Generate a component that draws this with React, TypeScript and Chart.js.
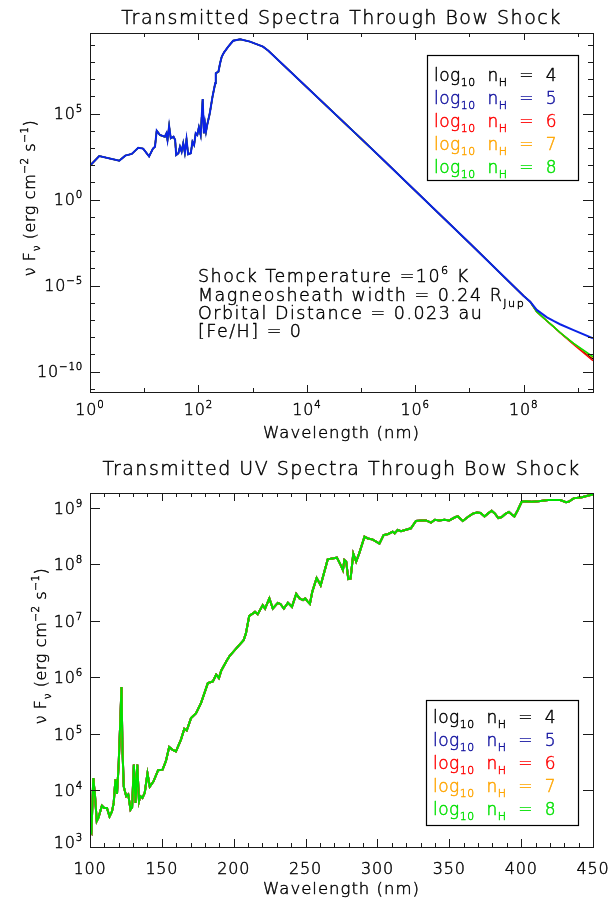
import React, { useEffect, useRef } from "react";
import { Chart, registerables } from "chart.js";
Chart.register(...registerables);

const FONT = "'DejaVu Sans'";
const WEIGHT = "200";

// ---------------- Top chart (full spectrum) ----------------
const topTitle = "Transmitted Spectra Through Bow Shock";
const xTitle = "Wavelength (nm)";

// shared part of all five spectra (nm, erg cm^-2 s^-1)
const topCoreWavelength = [
  1, 1.48, 3.47, 4.47, 5.89, 7.76, 9.55, 12.3, 14.5, 15.8, 17.0, 19.5, 24.0, 25.7, 26.9, 28.8,
  30.9, 34.7, 37.2, 38.9, 42.7, 45.7, 49.0, 52.5, 56.2, 60.3, 64.6, 72.4, 77.6, 83.2, 89.1, 95.5,
  102, 110, 120, 126, 132, 138, 145, 162, 182, 204, 209, 234, 251, 269, 295, 355, 437, 589, 891,
  1550, 1950, 1e4, 1e5, 2.24e5, 1e6, 1e7, 1e8, 1.32e8,
];
const topCoreFlux = [
  95, 347, 186, 363, 457, 1050, 933, 331, 933, 1200, 10200, 5750, 4570, 7240, 2950, 19000,
  3720, 4570, 2950, 398, 501, 1200, 617, 1900, 537, 3240, 437, 501, 2340, 1510, 7240, 5750,
  16200, 5750, 708000, 7240, 27500, 9120, 21900, 105000, 977000, 5.89e6, 2.24e7, 2.75e7, 8.51e7, 2.04e8, 3.55e8, 7.94e8, 1.74e9, 2.14e9, 1.55e9,
  7.94e8, 4.57e8, 3.47e6, 3.55e3, 316, 3.3, 3.0e-3, 2.5e-6, 1.17e-6,
];
// long-wavelength tails where the densities separate
const topTailWavelength = [1.74e8, 2.69e8, 3.55e8, 4.68e8, 8.32e8, 1.9e9];
const tailN4 = [3.1e-7, 8.9e-8, 4.17e-8, 1.9e-8, 4.2e-9, 5.6e-10];
const tailN5 = [3.9e-7, 1.45e-7, 8.9e-8, 5.75e-8, 2.63e-8, 8.7e-9];
const tailN6 = [3.1e-7, 8.9e-8, 4.1e-8, 1.85e-8, 3.8e-9, 4.37e-10];
const tailN7 = [3.1e-7, 8.9e-8, 4.17e-8, 1.9e-8, 4.4e-9, 6.6e-10];
const tailN8 = [3.1e-7, 8.9e-8, 4.17e-8, 1.9e-8, 4.47e-9, 7.4e-10];

const topXMin = 1;
const topXMax = 1.9e9;
const topYMin = 6.6e-12;
const topYMax = 4.9e9;
const topXMajor = [1, 1e2, 1e4, 1e6, 1e8];
const topXMajorExp = ["0", "2", "4", "6", "8"];
const topXMinor = [10, 1e3, 1e5, 1e7, 1e9];
const topYMajor = [1e-10, 1e-5, 1, 1e5];
const topYMajorExp = ["\u221210", "\u22125", "0", "5"];
const topYMinor = [1e-11, 1e-9, 1e-8, 1e-7, 1e-6, 1e-4, 1e-3, 1e-2, 1e-1, 10, 1e2, 1e3, 1e4, 1e6, 1e7, 1e8, 1e9];

// ---------------- Bottom chart (UV) ----------------
const uvTitle = "Transmitted UV Spectra Through Bow Shock";
const uvWavelength = [
  100, 101, 102.3, 103.5, 104.7, 105.9, 108.3, 109.9, 111.8, 113.6, 115.3, 116.5, 117.7, 118.8, 120.0, 121.2,
  121.9, 122.6, 123.5, 125.2, 126.6, 128.2, 129.3, 130.5, 131.7, 132.9, 134.1, 135.0, 136.5, 138.1, 140.0, 141.6,
  144.2, 147.4, 150.5, 152.8, 155.1, 157.5, 159.8, 163.3, 165.6, 167.3, 170.3, 173.8, 177.3, 182.0, 185.5, 187.8,
  189.7, 191.3, 194.8, 197.1, 199.2, 202.7, 206.9, 208.5, 210.8, 213.2, 214.8, 216.7, 220.2, 221.8, 224.8, 227.2,
  230.7, 232.5, 234.9, 237.7, 240.5, 243.5, 245.8, 248.2, 249.8, 251.2, 253.0, 254.7, 257.7, 260.5, 265.4, 269.5,
  271.8, 274.8, 276.0, 277.0, 278.3, 279.7, 281.3, 283.2, 285.2, 287.5, 291.0, 293.4, 296.8, 301.4, 304.3, 307.6,
  310.6, 312.0, 314.1, 316.4, 320.5, 323.3, 326.8, 330.3, 333.8, 337.3, 340.0, 343.0, 346.6, 350.0, 354.3, 356.0,
  359.4, 362.9, 366.4, 369.2, 371.8, 374.5, 376.8, 379.5, 381.8, 384.1, 386.5, 388.8, 391.5, 393.3, 395.3, 397.6,
  400.4, 403.2, 407.4, 412.1, 419.0, 427.2, 431.2, 433.0, 436.5, 442.3, 446.9, 450.0,
];
const uvFlux = [
  2.04e3, 1.82e3, 1.66e4, 7.94e3, 2.88e3, 3.31e3, 5.37e3, 4.9e3, 4.9e3, 3.47e3, 4.27e3, 6.03e3, 1.58e4, 8.71e3, 3.09e4, 2.04e5,
  6.76e5, 5.25e4, 1.17e4, 7.94e3, 8.51e3, 4.57e3, 5.0e3, 2.88e4, 6.03e3, 2.88e4, 6.46e3, 7.94e3, 7.41e3, 9.12e3, 2.0e4, 1.17e4,
  1.45e4, 2.29e4, 2.34e4, 3.31e4, 5.89e4, 5.25e4, 4.9e4, 7.94e4, 1.23e5, 1.15e5, 1.91e5, 2.34e5, 3.55e5, 7.94e5, 8.51e5, 1.12e6,
  9.77e5, 1.32e6, 1.91e6, 2.4e6, 2.75e6, 3.47e6, 4.57e6, 6.03e6, 1.23e7, 1.35e7, 1.45e7, 1.32e7, 1.91e7, 1.66e7, 2.51e7, 1.66e7,
  2.09e7, 2.0e7, 1.66e7, 2.09e7, 1.78e7, 3.02e7, 2.51e7, 2.34e7, 2.51e7, 2.24e7, 2.0e7, 3.31e7, 5.75e7, 4.27e7, 1.23e8, 1.29e8,
  1.32e8, 9.33e7, 7.94e7, 1.2e8, 1.12e8, 5.5e7, 5.62e7, 1.55e8, 1.12e8, 1.62e8, 3.09e8, 2.88e8, 2.75e8, 2.34e8, 3.31e8, 3.47e8,
  3.8e8, 3.55e8, 4.07e8, 3.89e8, 4.17e8, 4.37e8, 5.89e8, 6.03e8, 6.03e8, 5.5e8, 6.17e8, 6.03e8, 6.17e8, 6.03e8, 6.92e8, 7.08e8,
  5.89e8, 6.92e8, 7.94e8, 8.32e8, 8.13e8, 7.08e8, 7.94e8, 8.91e8, 7.94e8, 6.61e8, 6.92e8, 7.76e8, 8.51e8, 7.76e8, 7.08e8, 9.12e8,
  1.29e9, 1.32e9, 1.29e9, 1.32e9, 1.38e9, 1.38e9, 1.26e9, 1.29e9, 1.48e9, 1.55e9, 1.66e9, 1.74e9,
];
const uvXMin = 100;
const uvXMax = 450;
const uvYMin = 1e3;
const uvYMax = 1.84e9;
const uvXMajor = [100, 150, 200, 250, 300, 350, 400, 450];
const uvXMinor = [110, 120, 130, 140, 160, 170, 180, 190, 210, 220, 230, 240, 260, 270, 280, 290, 310, 320, 330, 340, 360, 370, 380, 390, 410, 420, 430, 440];
const uvYMajor = [1e3, 1e4, 1e5, 1e6, 1e7, 1e8, 1e9];
const uvYMajorExp = ["3", "4", "5", "6", "7", "8", "9"];

// ---------------- Legend ----------------
const densities = ["4", "5", "6", "7", "8"];
const lineColors = ["#000000", "#0a22e6", "#ff0000", "#ffa500", "#00e000"];
const legendTextColors = ["#000000", "#1414a0", "#ff0000", "#ffa500", "#00e000"];

type Seg = { t: string; k?: "sub" | "sup" };

const yTitleSegs: Seg[] = [
  { t: "\u03bd F" }, { t: "\u03bd", k: "sub" }, { t: " (erg cm" }, { t: "\u22122", k: "sup" }, { t: " s" }, { t: "\u22121", k: "sup" }, { t: ")" },
];
const annotationLines: Seg[][] = [
  [{ t: "Shock Temperature =10" }, { t: "6", k: "sup" }, { t: " K" }],
  [{ t: "Magneosheath width = 0.24 R" }, { t: "Jup", k: "sub" }],
  [{ t: "Orbital Distance = 0.023 au" }],
  [{ t: "[Fe/H] = 0" }],
];

function font(size: number) {
  return `${WEIGHT} ${size}px ${FONT}`;
}

function richWidth(ctx: CanvasRenderingContext2D, segs: Seg[], size: number) {
  let w = 0;
  for (const s of segs) {
    ctx.font = font(s.k ? size * 0.64 : size);
    w += ctx.measureText(s.t).width;
  }
  return w;
}

function drawRich(
  ctx: CanvasRenderingContext2D,
  segs: Seg[],
  x: number,
  y: number,
  size: number,
  color: string,
  align: "left" | "center" | "right" = "left",
  spacing = 0
) {
  ctx.save();
  (ctx as any).letterSpacing = spacing + "px";
  const w = richWidth(ctx, segs, size);
  let cx = align === "left" ? x : align === "center" ? x - w / 2 : x - w;
  const base = y + size * 0.36;
  ctx.fillStyle = color;
  ctx.strokeStyle = color;
  ctx.lineWidth = 0.45;
  ctx.lineJoin = "round";
  ctx.textAlign = "left";
  ctx.textBaseline = "alphabetic";
  for (const s of segs) {
    const fs = s.k ? size * 0.64 : size;
    ctx.font = font(fs);
    const dy = s.k === "sub" ? size * 0.3 : s.k === "sup" ? -size * 0.45 : 0;
    ctx.fillText(s.t, cx, base + dy);
    ctx.strokeText(s.t, cx, base + dy);
    cx += ctx.measureText(s.t).width;
  }
  ctx.restore();
}

type Deco = {
  title: string;
  titleY: number;
  xMajor: number[];
  xMajorLabels: Seg[][];
  xMinor: number[];
  xMajorLen: number;
  xMinorLen: number;
  xLabelY: number;
  xTitleY: number;
  yMajor: number[];
  yMajorLabels: Seg[][];
  yMinor: number[];
  yMajorLen: number;
  yMinorLen: number;
  yTitleX: number;
  yTitleY: number;
  legendBox: [number, number, number, number];
  legendFirstY: number;
  annotations?: { lines: Seg[][]; x: number; ys: number[] };
};

function makeDecoPlugin(d: Deco) {
  return {
    id: "idlDeco",
    afterDraw(chart: any) {
      const ctx: CanvasRenderingContext2D = chart.ctx;
      const a = chart.chartArea;
      const xs = chart.scales.x;
      const ys = chart.scales.y;
      ctx.save();
      ctx.strokeStyle = "#1a1a1a";
      ctx.lineWidth = 1;
      ctx.strokeRect(Math.round(a.left) + 0.5, Math.round(a.top) + 0.5, Math.round(a.right - a.left), Math.round(a.bottom - a.top));
      ctx.beginPath();
      const xTick = (v: number, len: number) => {
        const px = Math.round(xs.getPixelForValue(v)) + 0.5;
        ctx.moveTo(px, a.bottom);
        ctx.lineTo(px, a.bottom - len);
        ctx.moveTo(px, a.top);
        ctx.lineTo(px, a.top + len);
      };
      const yTick = (v: number, len: number) => {
        const py = Math.round(ys.getPixelForValue(v)) + 0.5;
        ctx.moveTo(a.left, py);
        ctx.lineTo(a.left + len, py);
        ctx.moveTo(a.right, py);
        ctx.lineTo(a.right - len, py);
      };
      d.xMajor.forEach((v) => xTick(v, d.xMajorLen));
      d.xMinor.forEach((v) => xTick(v, d.xMinorLen));
      d.yMajor.forEach((v) => yTick(v, d.yMajorLen));
      d.yMinor.forEach((v) => yTick(v, d.yMinorLen));
      ctx.stroke();

      // tick labels
      d.xMajor.forEach((v, i) => {
        drawRich(ctx, d.xMajorLabels[i], xs.getPixelForValue(v), d.xLabelY, 16, "#000", "center", 0.8);
      });
      d.yMajor.forEach((v, i) => {
        const py = Math.min(ys.getPixelForValue(v), a.bottom - 5);
        drawRich(ctx, d.yMajorLabels[i], a.left - 7, py, 16, "#000", "right", 0.8);
      });

      // titles
      drawRich(ctx, [{ t: d.title }], (a.left + a.right) / 2, d.titleY, 19, "#000", "center", 1.5);
      drawRich(ctx, [{ t: xTitle }], (a.left + a.right) / 2, d.xTitleY, 16.5, "#000", "center", 1);
      ctx.save();
      ctx.translate(d.yTitleX, d.yTitleY);
      ctx.rotate(-Math.PI / 2);
      drawRich(ctx, yTitleSegs, 0, 0, 16, "#000", "center", 0.6);
      ctx.restore();

      // legend
      const [bx, by, bw, bh] = d.legendBox;
      ctx.strokeStyle = "#000";
      ctx.lineWidth = 1.2;
      ctx.strokeRect(bx + 0.5, by + 0.5, bw, bh);
      densities.forEach((n, i) => {
        drawRich(
          ctx,
          [{ t: "log" }, { t: "10", k: "sub" }, { t: "  n" }, { t: "H", k: "sub" }, { t: "  =  " + n }],
          bx + 7,
          d.legendFirstY + i * 23,
          17,
          legendTextColors[i],
          "left",
          0.5
        );
      });

      if (d.annotations) {
        d.annotations.lines.forEach((l, i) => {
          drawRich(ctx, l, d.annotations!.x, d.annotations!.ys[i], 17.5, "#000", "left", 1.5);
        });
      }
      ctx.restore();
    },
  };
}

function ChartCanvas({ config, height }: { config: () => any; height: number }) {
  const ref = useRef<HTMLCanvasElement>(null);
  useEffect(() => {
    const chart = new Chart(ref.current!, config());
    return () => chart.destroy();
  }, []);
  return <canvas ref={ref} width={610} height={height} style={{ display: "block", width: 610, height }} />;
}

function topConfig() {
  const tails = [tailN4, tailN5, tailN6, tailN7, tailN8];
  const order = [4, 0, 3, 2, 1];
  const datasets = densities.map((n, i) => {
    const wl = topCoreWavelength.concat(topTailWavelength);
    const fl = topCoreFlux.concat(tails[i]);
    return {
      label: "log10 nH = " + n,
      data: wl.map((x, j) => ({ x, y: fl[j] })),
      borderColor: lineColors[i],
      borderWidth: i === 1 ? 2 : 1.5,
      pointRadius: 0,
      tension: 0,
      fill: false,
      order: order[i],
    };
  });
  const deco: Deco = {
    title: topTitle,
    titleY: 17,
    xMajor: topXMajor,
    xMajorLabels: topXMajorExp.map((e) => [{ t: "10" }, { t: e, k: "sup" as const }]),
    xMinor: topXMinor,
    xMajorLen: 7,
    xMinorLen: 4,
    xLabelY: 409,
    xTitleY: 432,
    yMajor: topYMajor,
    yMajorLabels: topYMajorExp.map((e) => [{ t: "10" }, { t: e, k: "sup" as const }]),
    yMinor: topYMinor,
    yMajorLen: 10,
    yMinorLen: 5,
    yTitleX: 29,
    yTitleY: 198,
    legendBox: [427, 55, 151, 125],
    legendFirstY: 75,
    annotations: { lines: annotationLines, x: 198, ys: [276, 295, 313, 331] },
  };
  return {
    type: "line",
    data: { datasets },
    options: {
      animation: false,
      responsive: false,
      devicePixelRatio: 1,
      parsing: true,
      layout: { padding: { left: 90, right: 17, top: 33, bottom: 58 } },
      plugins: { legend: { display: false }, tooltip: { enabled: false }, title: { display: false } },
      scales: {
        x: { type: "logarithmic", min: topXMin, max: topXMax, display: false },
        y: { type: "logarithmic", min: topYMin, max: topYMax, display: false },
      },
    },
    plugins: [makeDecoPlugin(deco)],
  };
}

function uvConfig() {
  const order = [4, 3, 2, 1, 0];
  const datasets = densities.map((n, i) => ({
    label: "log10 nH = " + n,
    data: uvWavelength.map((x, j) => ({ x, y: uvFlux[j] })),
    borderColor: lineColors[i],
    borderWidth: 2,
    pointRadius: 0,
    tension: 0,
    fill: false,
    order: order[i],
  }));
  const deco: Deco = {
    title: uvTitle,
    titleY: 18,
    xMajor: uvXMajor,
    xMajorLabels: uvXMajor.map((v) => [{ t: String(v) }]),
    xMinor: uvXMinor,
    xMajorLen: 8,
    xMinorLen: 4,
    xLabelY: 418,
    xTitleY: 438,
    yMajor: uvYMajor,
    yMajorLabels: uvYMajorExp.map((e) => [{ t: "10" }, { t: e, k: "sup" as const }]),
    yMinor: [],
    yMajorLen: 10,
    yMinorLen: 5,
    yTitleX: 40,
    yTitleY: 196,
    legendBox: [426, 250, 152, 125],
    legendFirstY: 267,
  };
  return {
    type: "line",
    data: { datasets },
    options: {
      animation: false,
      responsive: false,
      devicePixelRatio: 1,
      layout: { padding: { left: 90, right: 17, top: 43, bottom: 52 } },
      plugins: { legend: { display: false }, tooltip: { enabled: false }, title: { display: false } },
      scales: {
        x: { type: "linear", min: uvXMin, max: uvXMax, display: false },
        y: { type: "logarithmic", min: uvYMin, max: uvYMax, display: false },
      },
    },
    plugins: [makeDecoPlugin(deco)],
  };
}

export default function App() {
  return (
    <div style={{ position: "absolute", left: 0, top: 0, width: 610, height: 899, background: "#fff" }}>
      <ChartCanvas config={topConfig} height={450} />
      <ChartCanvas config={uvConfig} height={449} />
    </div>
  );
}
